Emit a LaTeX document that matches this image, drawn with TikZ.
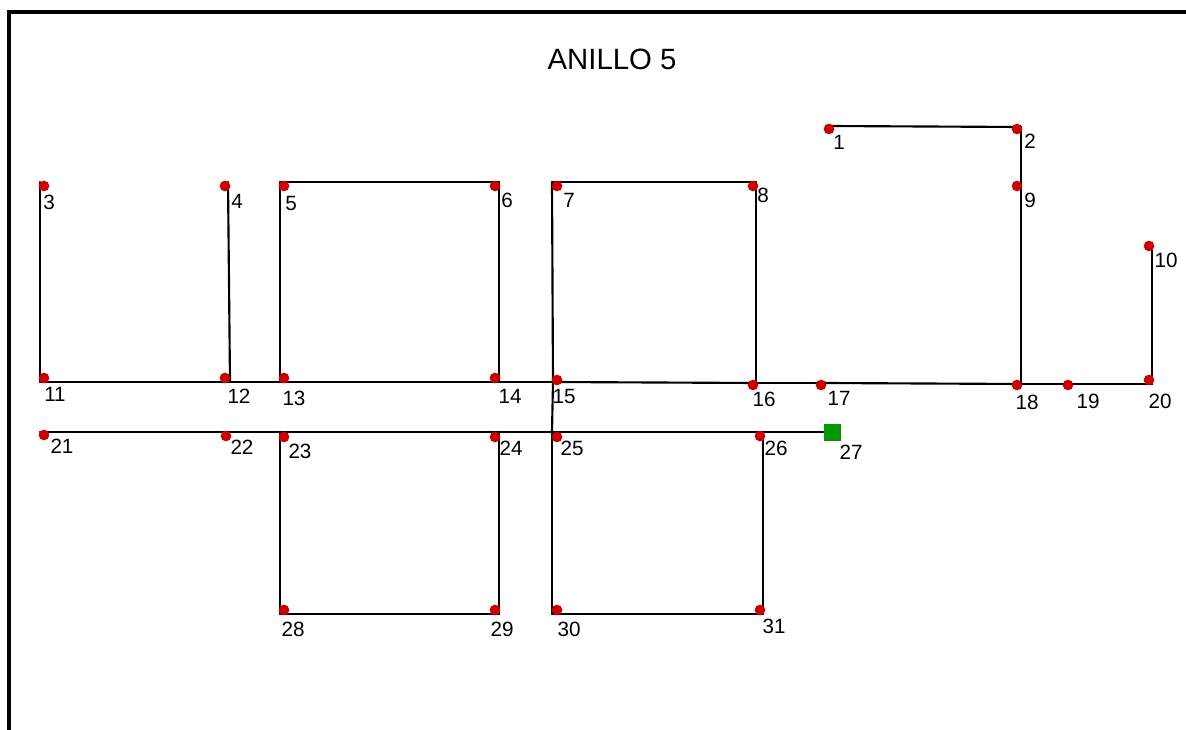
\documentclass[tikz,border=0pt]{standalone}
\usepackage{fontspec}
\setmainfont{Liberation Sans}
\usepackage{xcolor}
\definecolor{pinred}{RGB}{204,0,0}
\definecolor{feedgreen}{RGB}{0,153,0}
\tikzset{
  wire/.style={line width=1.6pt,line cap=round,line join=round},
  pin/.style={circle,fill=pinred,minimum size=8pt,inner sep=0pt},
  feeder/.style={rectangle,fill=feedgreen,minimum size=12.75pt,inner sep=0pt},
  num/.style={inner sep=0pt,font=\fontsize{15.5}{16}\selectfont},
}
\begin{document}
\begin{tikzpicture}[x=0.75pt,y=-0.75pt]
\useasboundingbox (0,0) rectangle (1186,730);
\coordinate (frameA) at (9,730);
\coordinate (frameB) at (9,12);
\coordinate (frameC) at (1186,12);
\draw[line width=3.2pt] (frameA) -- (frameB) -- (frameC);
\node[font=\fontsize{22}{24}\selectfont,inner sep=0pt] (title) at (612,59) {ANILLO 5};
% wire corners
\foreach \n/\wx/\wy in {1/828/126,2/1021/127,3/40/182,4/228/182,5/280/182,6/499/182,7/552/182,8/756/182,
  9/1021/182,10/1152/243,11/40/382,12/230/382,13/280/382,14/499/382,15/553/382,16/756/383,
  17/825/383,18/1021/384,19/1072/384,20/1152/384,21/40/432,22/230/432,23/280/432,24/499/432,
  25/552/432,26/763/432,28/280/614,29/499/614,30/552/614,31/763/614}
  \coordinate (w\n) at (\wx,\wy);
\node[feeder] (d27) at (832,433) {};
\node[num] (l27) at (851,452) {27};
% branches
\foreach \a/\b in {1/2,2/9,9/18,10/20,3/11,4/12,5/13,5/6,6/14,7/15,15/25,7/8,8/16,
  11/12,12/13,13/14,14/15,15/16,16/17,17/18,18/19,19/20,
  21/22,22/23,23/24,24/25,25/26,23/28,28/29,29/24,25/30,30/31,31/26}
  \draw[wire] (w\a) -- (w\b);
\draw[wire] (w26) -- (d27.west |- w26);
% points and their numbers
\foreach \n/\x/\y/\lx/\ly in {1/829/129/839/142,2/1017/129/1030/141,3/44/186/49/202,4/225/186/237/201,
  5/284/186/291/203,6/495/186/507/200,7/557/186/569/200,8/753/186/763/195,9/1017/186/1030/200,
  10/1149/246/1166/260,11/44/378/55/394,12/225/378/239/396,13/284/378/294/398,14/495/378/510/396,
  15/557/380/564/396,16/753/385/764/399,17/821/385/839/398,18/1017/385/1027/402,19/1068/385/1088/401,
  20/1149/380/1160/401,21/44/435/62/446,22/226/436/242/447,23/284/437/300/451,24/495/437/511/448,
  25/557/437/572/448,26/760/436/776/448,28/284/610/293/629,29/495/610/502/629,30/557/610/569/629,
  31/760/610/774/626}{
  \node[pin] (d\n) at (\x,\y) {};
  \node[num] (l\n) at (\lx,\ly) {\n};
}
\end{tikzpicture}
\end{document}
